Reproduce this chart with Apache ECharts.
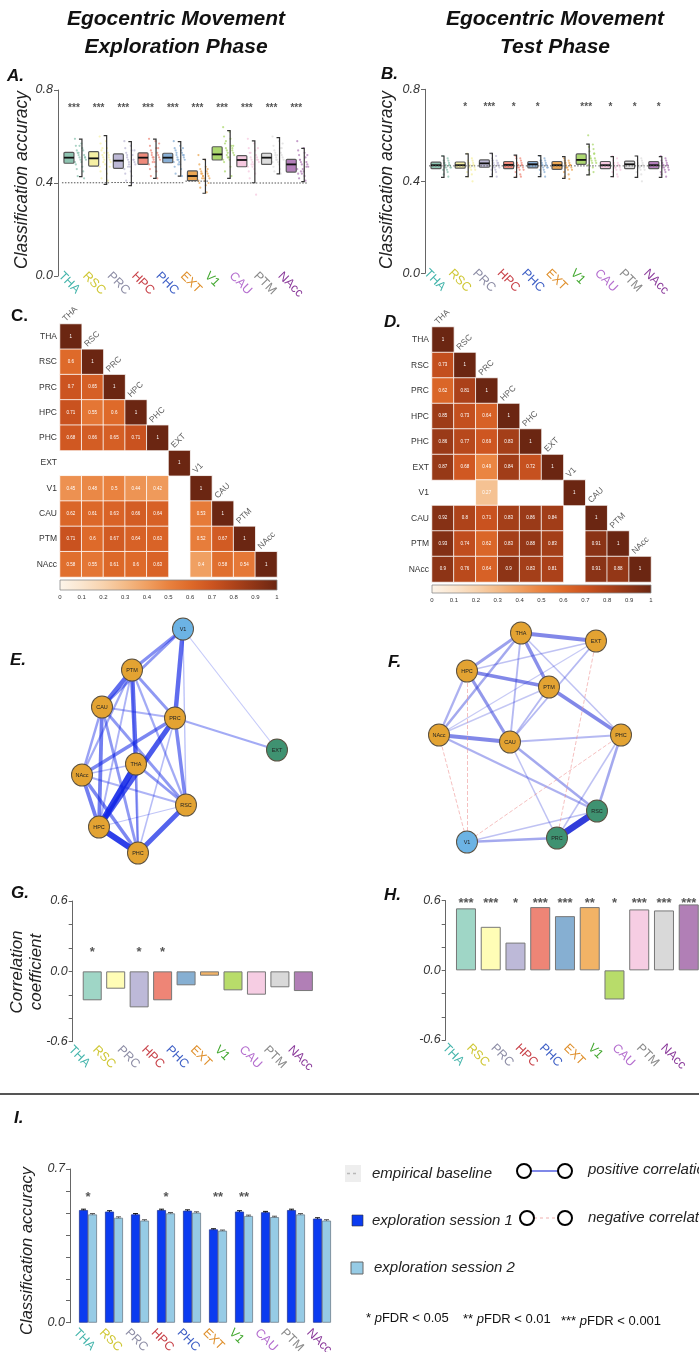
<!DOCTYPE html>
<html>
<head>
<meta charset="utf-8">
<script src="https://cdn.jsdelivr.net/npm/echarts@6/dist/echarts.min.js"></script>
<style>
html,body{margin:0;padding:0;background:#fff;}
#chart{width:699px;height:1352px;}
</style>
</head>
<body>
<div id="chart"></div>
<script>
const FONT = '"Liberation Sans", Arial, Helvetica, sans-serif';

// ---------- regions ----------
const regions = ['THA','RSC','PRC','HPC','PHC','EXT','V1','CAU','PTM','NAcc'];
const labelColors = ['#45b5ac','#cfc734','#8e8ea6','#c84249','#3f60c6','#df8f2b','#43a830','#b56fcf','#8a8a8a','#8b3b9b'];
const boxFills = ['#8ec4b1','#f6f0a4','#bdb9d6','#ef8a7b','#88afd6','#eca753','#acd86f','#f5c8df','#dddddd','#b37fba'];
const barFills = ['#9fd6c6','#fffdb6','#bdb9d8','#ee8576','#86afd2','#f2b366','#b8dc6a','#f6cde3','#d9d9d9','#b17fb6'];

// ---------- A: exploration phase classification accuracy ----------
const A_q1 = [0.485,0.473,0.463,0.480,0.487,0.410,0.499,0.470,0.480,0.447];
const A_median = [0.509,0.506,0.496,0.509,0.509,0.430,0.523,0.499,0.509,0.480];
const A_q3 = [0.532,0.535,0.525,0.530,0.528,0.452,0.556,0.518,0.528,0.502];
const A_low = [0.427,0.394,0.389,0.420,0.430,0.356,0.420,0.401,0.439,0.406];
const A_high = [0.589,0.604,0.578,0.589,0.578,0.502,0.625,0.581,0.595,0.549];
const A_baseline = [0.401,0.401,0.402,0.400,0.401,0.408,0.400,0.400,0.400,0.400];
const A_stars = ['***','***','***','***','***','***','***','***','***','***'];
const A_points = [
  [0.59,0.57,0.56,0.55,0.54,0.54,0.53,0.52,0.52,0.51,0.51,0.50,0.50,0.49,0.49,0.48,0.47,0.46,0.45,0.43,0.42,0.53,0.51,0.56],
  [0.60,0.58,0.57,0.55,0.54,0.53,0.52,0.51,0.51,0.50,0.50,0.49,0.48,0.47,0.46,0.45,0.44,0.42,0.41,0.55,0.52,0.49,0.47,0.53],
  [0.58,0.56,0.55,0.54,0.53,0.52,0.51,0.50,0.50,0.49,0.49,0.48,0.47,0.46,0.45,0.44,0.43,0.41,0.40,0.52,0.50,0.47,0.54,0.48],
  [0.59,0.58,0.56,0.55,0.54,0.53,0.53,0.52,0.51,0.51,0.50,0.50,0.49,0.48,0.47,0.46,0.45,0.43,0.42,0.52,0.55,0.49,0.57,0.51],
  [0.58,0.56,0.55,0.54,0.54,0.53,0.52,0.52,0.51,0.51,0.50,0.50,0.49,0.49,0.48,0.47,0.46,0.44,0.43,0.53,0.55,0.50,0.52,0.48],
  [0.52,0.50,0.48,0.47,0.46,0.45,0.45,0.44,0.44,0.43,0.43,0.42,0.42,0.41,0.41,0.40,0.39,0.38,0.36,0.44,0.46,0.42,0.40,0.43],
  [0.64,0.62,0.60,0.59,0.57,0.56,0.55,0.55,0.54,0.53,0.53,0.52,0.51,0.50,0.50,0.49,0.47,0.45,0.43,0.58,0.54,0.52,0.56,0.51],
  [0.59,0.57,0.55,0.54,0.53,0.52,0.51,0.51,0.50,0.50,0.49,0.49,0.48,0.47,0.46,0.45,0.44,0.42,0.35,0.53,0.50,0.48,0.55,0.47],
  [0.60,0.58,0.56,0.55,0.54,0.53,0.52,0.52,0.51,0.51,0.50,0.50,0.49,0.49,0.48,0.47,0.46,0.45,0.44,0.53,0.55,0.50,0.57,0.52],
  [0.58,0.55,0.54,0.53,0.52,0.51,0.50,0.49,0.49,0.48,0.48,0.47,0.46,0.46,0.45,0.44,0.43,0.42,0.41,0.50,0.47,0.45,0.52,0.44]
];

// ---------- B: test phase classification accuracy ----------
const B_q1 = [0.455,0.457,0.461,0.455,0.458,0.452,0.474,0.455,0.455,0.455];
const B_median = [0.470,0.470,0.478,0.471,0.474,0.470,0.493,0.470,0.474,0.470];
const B_q3 = [0.483,0.484,0.493,0.486,0.486,0.486,0.519,0.486,0.488,0.486];
const B_low = [0.417,0.420,0.420,0.417,0.420,0.413,0.428,0.420,0.417,0.417];
const B_high = [0.510,0.519,0.522,0.514,0.512,0.507,0.562,0.507,0.510,0.507];
const B_baseline = [0.467,0.467,0.467,0.467,0.467,0.467,0.467,0.467,0.467,0.467];
const B_stars = ['','*','***','*','*','','***','*','*','*'];
const B_points = [
  [0.51,0.50,0.49,0.49,0.48,0.48,0.47,0.47,0.47,0.46,0.46,0.46,0.45,0.45,0.44,0.43,0.42,0.48,0.47,0.46],
  [0.52,0.50,0.49,0.49,0.48,0.48,0.47,0.47,0.47,0.46,0.46,0.45,0.45,0.44,0.43,0.42,0.40,0.48,0.47,0.46],
  [0.52,0.51,0.50,0.49,0.49,0.48,0.48,0.48,0.47,0.47,0.46,0.46,0.45,0.45,0.44,0.43,0.42,0.49,0.47,0.46],
  [0.51,0.50,0.50,0.49,0.48,0.48,0.47,0.47,0.47,0.46,0.46,0.45,0.45,0.44,0.43,0.42,0.42,0.48,0.47,0.46],
  [0.51,0.50,0.49,0.49,0.48,0.48,0.48,0.47,0.47,0.46,0.46,0.46,0.45,0.45,0.44,0.43,0.42,0.49,0.47,0.47],
  [0.50,0.49,0.49,0.48,0.48,0.47,0.47,0.47,0.46,0.46,0.46,0.45,0.45,0.44,0.43,0.42,0.41,0.48,0.47,0.46],
  [0.60,0.56,0.55,0.54,0.53,0.52,0.51,0.50,0.50,0.49,0.49,0.48,0.48,0.47,0.46,0.45,0.44,0.43,0.52,0.50],
  [0.51,0.50,0.49,0.48,0.48,0.47,0.47,0.47,0.46,0.46,0.46,0.45,0.45,0.44,0.43,0.42,0.42,0.48,0.47,0.46],
  [0.51,0.50,0.49,0.49,0.48,0.48,0.47,0.47,0.46,0.46,0.46,0.45,0.45,0.44,0.43,0.42,0.40,0.48,0.47,0.46],
  [0.51,0.50,0.49,0.49,0.48,0.48,0.47,0.47,0.47,0.46,0.46,0.45,0.45,0.44,0.44,0.43,0.42,0.48,0.47,0.46]
];

// ---------- C / D: correlation matrices (lower triangle, null = not shown) ----------
const C_matrix = [
  [1],
  [0.6,1],
  [0.7,0.65,1],
  [0.71,0.55,0.6,1],
  [0.68,0.66,0.65,0.71,1],
  [null,null,null,null,null,1],
  [0.45,0.48,0.5,0.44,0.42,null,1],
  [0.62,0.61,0.63,0.66,0.64,null,0.53,1],
  [0.71,0.6,0.67,0.64,0.63,null,0.52,0.67,1],
  [0.58,0.55,0.61,0.6,0.63,null,0.4,0.58,0.54,1]
];
const D_matrix = [
  [1],
  [0.73,1],
  [0.62,0.81,1],
  [0.85,0.73,0.64,1],
  [0.86,0.77,0.69,0.83,1],
  [0.87,0.68,0.49,0.84,0.72,1],
  [null,null,0.27,null,null,null,1],
  [0.92,0.8,0.71,0.83,0.86,0.84,null,1],
  [0.93,0.74,0.62,0.83,0.88,0.83,null,0.91,1],
  [0.9,0.76,0.64,0.9,0.83,0.81,null,0.91,0.88,1]
];
const heatColors = ['#fdf5ea','#fbe6cf','#f8d3ae','#f4bb88','#f0a062','#e9823f','#de6a2a','#cc5420','#ae431a','#8d3416','#6b2612'];
const colorbarTicks = [0,0.1,0.2,0.3,0.4,0.5,0.6,0.7,0.8,0.9,1];

// ---------- E / F: network layouts and edge weights ----------
const E_nodes = ['V1','PTM','CAU','PRC','EXT','THA','NAcc','RSC','HPC','PHC'];
const E_layout = [[103,1],[52,42],[22,79],[95,90],[197,122],[56,136],[2,147],[106,177],[19,199],[58,225]];
const E_nodeColor = ['#6cb3e4','#e3a332','#e3a332','#e3a332','#3f9271','#e3a332','#e3a332','#e3a332','#e3a332','#e3a332'];
const E_edges = [
  ['THA','HPC',0.85],['HPC','PHC',0.85],['PRC','HPC',0.7],['PTM','THA',0.6],['V1','PRC',0.6],
  ['PTM','CAU',0.6],['RSC','PHC',0.65],['CAU','HPC',0.5],['NAcc','HPC',0.5],['NAcc','PHC',0.45],
  ['PRC','RSC',0.45],['PRC','NAcc',0.45],['V1','PTM',0.4],['V1','CAU',0.35],['PTM','PRC',0.35],
  ['CAU','RSC',0.35],['CAU','PHC',0.35],['THA','RSC',0.35],['THA','PHC',0.3],['CAU','NAcc',0.3],
  ['PTM','NAcc',0.25],['PTM','HPC',0.2],['PTM','RSC',0.25],['PRC','EXT',0.25],['CAU','PRC',0.2],
  ['NAcc','RSC',0.2],['PRC','PHC',0.15],['V1','RSC',0.12],['V1','EXT',0.08],['THA','NAcc',0.15],
  ['PTM','PHC',0.15],['HPC','RSC',0.1]
];
const F_nodes = ['THA','EXT','HPC','PTM','NAcc','CAU','PHC','RSC','PRC','V1'];
const F_layout = [[91,5],[166,13],[37,43],[119,59],[9,107],[80,114],[191,107],[167,183],[127,210],[37,214]];
const F_nodeColor = ['#e3a332','#e3a332','#e3a332','#e3a332','#e3a332','#e3a332','#e3a332','#3f9271','#3f9271','#6cb3e4'];
const F_edges = [
  ['RSC','PRC',0.95],['THA','EXT',0.5],['HPC','PTM',0.5],['PTM','PHC',0.5],['NAcc','CAU',0.5],
  ['THA','PTM',0.45],['HPC','CAU',0.4],['THA','HPC',0.35],['THA','NAcc',0.3],['PRC','V1',0.3],
  ['CAU','RSC',0.3],['PHC','RSC',0.3],['NAcc','RSC',0.25],['THA','CAU',0.2],['HPC','NAcc',0.25],
  ['PTM','CAU',0.2],['EXT','CAU',0.2],['CAU','PHC',0.2],['CAU','PRC',0.15],['PHC','PRC',0.15],
  ['RSC','V1',0.15],['HPC','EXT',0.15],['THA','PHC',0.15],['PTM','NAcc',0.12],['EXT','NAcc',0.1],
  ['EXT','PRC',-0.2],['NAcc','V1',-0.15],['PHC','V1',-0.1],['HPC','V1',-0.08]
];

// ---------- G / H: correlation coefficients ----------
const G_values = [-0.247,-0.148,-0.307,-0.247,-0.119,-0.037,-0.162,-0.199,-0.136,-0.168];
const G_stars = ['*','','*','*','','','','','',''];
const H_values = [0.534,0.375,0.239,0.545,0.467,0.545,-0.251,0.525,0.516,0.568];
const H_stars = ['***','***','*','***','***','**','*','***','***','***'];

// ---------- I: exploration sessions ----------
const I_session1 = [0.513,0.506,0.493,0.513,0.510,0.425,0.506,0.503,0.513,0.474];
const I_session2 = [0.493,0.478,0.465,0.498,0.501,0.419,0.486,0.481,0.493,0.465];
const I_se1 = [0.004,0.004,0.004,0.004,0.004,0.003,0.004,0.004,0.004,0.004];
const I_se2 = [0.004,0.004,0.004,0.004,0.004,0.003,0.004,0.004,0.004,0.004];
const I_stars = ['*','','','*','','**','**','','',''];

// ================= building the option =================
const grids = [], xAxes = [], yAxes = [], series = [], visualMaps = [], graphics = [];

function addGrid(g) {
  grids.push(Object.assign({ containLabel: false, outerBoundsMode: 'none' }, g));
  return grids.length - 1;
}
function hiddenCategoryX(gi) {
  xAxes.push({ gridIndex: gi, type: 'category', data: regions,
    axisLine: { show: false }, axisTick: { show: false }, axisLabel: { show: false }, splitLine: { show: false } });
  return xAxes.length - 1;
}
function valueY(gi, min, max, interval, shown, offset) {
  yAxes.push({ gridIndex: gi, type: 'value', min, max, interval, offset,
    axisLine: { show: true, lineStyle: { color: '#666', width: 1 } },
    axisTick: { show: true, length: 4, lineStyle: { color: '#666' } },
    splitLine: { show: false },
    axisLabel: { fontSize: 12.5, fontStyle: 'italic', color: '#333', fontFamily: FONT, margin: 5,
      formatter: v => shown.some(t => Math.abs(t - v) < 1e-6) ? v.toFixed(1) : '' } });
  return yAxes.length - 1;
}
// rotated coloured region names, on their own axis
function labelAxis(g, margin) {
  const gi = addGrid(g);
  xAxes.push({ gridIndex: gi, type: 'category', data: regions, boundaryGap: false,
    axisLine: { show: false }, axisTick: { show: false }, splitLine: { show: false },
    axisLabel: { show: true, interval: 0, rotate: -45, margin, fontSize: 12.5, fontFamily: FONT,
      color: (v, i) => labelColors[i] } });
  yAxes.push({ gridIndex: gi, type: 'value', show: false, min: 0, max: 1 });
  series.push({ type: 'line', xAxisIndex: xAxes.length - 1, yAxisIndex: yAxes.length - 1, data: [], silent: true });
}
function starSeries(xi, yi, stars, y, size) {
  series.push({ type: 'scatter', xAxisIndex: xi, yAxisIndex: yi, silent: true, symbolSize: 1,
    itemStyle: { color: 'rgba(0,0,0,0)' },
    data: stars.map((s, i) => [i, y]),
    label: { show: true, position: 'inside', formatter: p => stars[p.dataIndex],
      fontSize: size, fontWeight: 'bold', color: '#2a2a2a', fontFamily: FONT } });
}

// box + bracket-whisker + jittered points panel
function boxPanel(g, yOffset, q1, med, q3, lo, hi, base, pts, stars, geo) {
  const gi = addGrid(g);
  const xi = hiddenCategoryX(gi);
  const yi = valueY(gi, 0, 0.8, 0.4, [0, 0.4, 0.8], yOffset);
  const pdata = [];
  pts.forEach((arr, i) => arr.forEach((v, j) => pdata.push([i, v, j])));
  series.push({ type: 'custom', xAxisIndex: xi, yAxisIndex: yi, silent: true, data: pdata,
    renderItem: (p, api) => {
      const i = api.value(0), j = api.value(2);
      const c = api.coord([i, api.value(1)]);
      const frac = ((j * 7) % 13) / 12;
      return { type: 'circle', shape: { cx: c[0] + geo.ptL + frac * geo.ptW, cy: c[1], r: 1.1 },
        style: { fill: boxFills[i], opacity: 0.75 } };
    } });
  const bdata = regions.map((r, i) => [i, q1[i], med[i], q3[i], lo[i], hi[i], base[i]]);
  series.push({ type: 'custom', xAxisIndex: xi, yAxisIndex: yi, silent: true, data: bdata,
    renderItem: (p, api) => {
      const i = api.value(0);
      const cx = api.coord([i, 0])[0];
      const y = k => api.coord([i, api.value(k)])[1];
      const yq1 = y(1), ym = y(2), yq3 = y(3), ylo = y(4), yhi = y(5), yb = y(6);
      const bx = cx + geo.bracket;
      return { type: 'group', children: [
        { type: 'rect', shape: { x: cx + geo.boxL, y: yq3, width: geo.boxW, height: yq1 - yq3, r: 1 },
          style: { fill: boxFills[i], stroke: '#5a5a5a', lineWidth: 1.2 } },
        { type: 'line', shape: { x1: cx + geo.boxL, y1: ym, x2: cx + geo.boxL + geo.boxW, y2: ym },
          style: { stroke: '#111', lineWidth: 1.8 } },
        { type: 'polyline', shape: { points: [[bx - 3, yhi], [bx, yhi], [bx, ylo], [bx - 3, ylo]] },
          style: { stroke: '#333', lineWidth: 1.2, fill: null } },
        { type: 'line', shape: { x1: cx + geo.baseL, y1: yb, x2: cx + geo.baseR, y2: yb },
          style: { stroke: '#555', lineWidth: 1, lineDash: [1.5, 1.5] } }
      ] };
    } });
  starSeries(xi, yi, stars, 0.72, 10);
}

boxPanel({ left: 61.6, top: 90, width: 247, height: 186 }, 3.6,
  A_q1, A_median, A_q3, A_low, A_high, A_baseline, A_points, A_stars,
  { boxL: -10, boxW: 10, bracket: 8, ptL: 1, ptW: 11, baseL: -12, baseR: 11 });
labelAxis({ left: 60.4, top: 266, width: 219.6, height: 10 }, -2);

boxPanel({ left: 428.9, top: 89.3, width: 242, height: 184 }, 3.9,
  B_q1, B_median, B_q3, B_low, B_high, B_baseline, B_points, B_stars,
  { boxL: -10, boxW: 10, bracket: 3, ptL: 2, ptW: 8, baseL: -12, baseR: 10 });
labelAxis({ left: 426, top: 263.3, width: 219.6, height: 10 }, -2);

// correlation heatmap + colour bar
function heatPanel(g, bar, matrix) {
  const gi = addGrid(g);
  xAxes.push({ gridIndex: gi, type: 'category', data: regions, show: false });
  const xi = xAxes.length - 1;
  yAxes.push({ gridIndex: gi, type: 'category', data: regions, inverse: true,
    axisLine: { show: false }, axisTick: { show: false }, splitLine: { show: false },
    axisLabel: { fontSize: 8.5, color: '#333', fontFamily: FONT, margin: 3 } });
  const yi = yAxes.length - 1;
  const data = [];
  matrix.forEach((row, r) => row.forEach((v, c) => { if (v !== null) data.push([c, r, v]); }));
  series.push({ type: 'heatmap', xAxisIndex: xi, yAxisIndex: yi, data, silent: true,
    itemStyle: { borderColor: 'rgba(255,255,255,0.8)', borderWidth: 1 },
    label: { show: true, fontSize: 4.5, color: '#fff', fontFamily: FONT, formatter: p => String(p.value[2]) } });
  visualMaps.push({ type: 'continuous', show: false, min: 0, max: 1, dimension: 2,
    seriesIndex: series.length - 1, inRange: { color: heatColors } });
  // region names above the diagonal (offset is in the rotated frame)
  series.push({ type: 'scatter', xAxisIndex: xi, yAxisIndex: yi, silent: true, symbolSize: 1,
    itemStyle: { color: 'rgba(0,0,0,0)' },
    data: regions.map((r, i) => [i, i]),
    label: { show: true, position: 'inside', formatter: p => regions[p.dataIndex], rotate: 45,
      align: 'left', verticalAlign: 'bottom', offset: [7, -12], fontSize: 8.5, color: '#333', fontFamily: FONT } });

  const bi = addGrid(bar);
  xAxes.push({ gridIndex: bi, type: 'value', min: 0, max: 1, interval: 0.1,
    axisLine: { show: false }, axisTick: { show: false }, splitLine: { show: false },
    axisLabel: { fontSize: 6, color: '#333', fontFamily: FONT, margin: 4,
      formatter: v => (v === 0 || v === 1) ? String(v) : v.toFixed(1) } });
  yAxes.push({ gridIndex: bi, type: 'value', min: 0, max: 1, show: false });
  series.push({ type: 'custom', xAxisIndex: xAxes.length - 1, yAxisIndex: yAxes.length - 1, silent: true,
    data: [[colorbarTicks[0], 1]],
    renderItem: (p, api) => {
      const a = api.coord([colorbarTicks[0], 1]);
      const b = api.coord([colorbarTicks[colorbarTicks.length - 1], 0]);
      return { type: 'rect', shape: { x: a[0], y: a[1], width: b[0] - a[0], height: b[1] - a[1] },
        style: { fill: new echarts.graphic.LinearGradient(0, 0, 1, 0,
          heatColors.map((c, k) => ({ offset: k / (heatColors.length - 1), color: c }))),
          stroke: '#8a8a8a', lineWidth: 0.8 } };
    } });
}
heatPanel({ left: 60, top: 324, width: 217, height: 253 }, { left: 60, top: 580, width: 217, height: 10 }, C_matrix);
heatPanel({ left: 432, top: 327, width: 219, height: 255 }, { left: 432, top: 585, width: 219, height: 8 }, D_matrix);

// networks
function netPanel(box, names, layout, colors, edges, blue) {
  series.push({ type: 'graph', layout: 'none', silent: true, left: box.left, top: box.top,
    width: box.width, height: box.height,
    data: names.map((n, i) => ({ name: n, x: layout[i][0], y: layout[i][1], symbolSize: [21, 22],
      itemStyle: { color: colors[i], borderColor: '#5a5040', borderWidth: 1 } })),
    links: edges.map(e => {
      const w = e[2];
      const ls = w < 0
        ? { color: '#ec8c8c', width: 1, opacity: 0.55, type: 'dashed' }
        : { color: blue, width: 0.6 + 6.4 * w, opacity: 0.18 + 0.82 * w, type: 'solid' };
      return { source: e[0], target: e[1], lineStyle: ls };
    }),
    label: { show: true, position: 'inside', fontSize: 5.5, color: '#222', fontFamily: FONT },
    lineStyle: { curveness: 0 } });
}
netPanel({ left: 82, top: 629, width: 195, height: 224 }, E_nodes, E_layout, E_nodeColor, E_edges, '#1024e6');
netPanel({ left: 439, top: 633, width: 182, height: 209 }, F_nodes, F_layout, F_nodeColor, F_edges, '#2a35d8');

// correlation bar panels
function corrPanel(g, yOffset, values, stars, barW) {
  const gi = addGrid(g);
  const xi = hiddenCategoryX(gi);
  const yi = valueY(gi, -0.6, 0.6, 0.2, [-0.6, 0, 0.6], yOffset);
  series.push({ type: 'bar', xAxisIndex: xi, yAxisIndex: yi, silent: true, data: values, barWidth: barW,
    itemStyle: { color: p => barFills[p.dataIndex], borderColor: '#777', borderWidth: 1 } });
  return [xi, yi];
}
const gAx = corrPanel({ left: 80.5, top: 901, width: 234.6, height: 140.7 }, 7.8, G_values, G_stars, 19);
starSeries(gAx[0], gAx[1], G_stars, 0.165, 13);
labelAxis({ left: 70.4, top: 1031.7, width: 219.6, height: 10 }, 6);
const hAx = corrPanel({ left: 453.6, top: 900.7, width: 247.5, height: 139.3 }, 7.9, H_values, H_stars, 20);
starSeries(hAx[0], hAx[1], H_stars, 0.575, 13);
labelAxis({ left: 444.4, top: 1030, width: 218.3, height: 10 }, 6);

// session comparison
(function () {
  const gi = addGrid({ left: 75, top: 1169, width: 260, height: 153.7 });
  const xi = hiddenCategoryX(gi);
  const yi = valueY(gi, 0, 0.7, 0.1, [0, 0.7], 5);
  series.push({ type: 'bar', xAxisIndex: xi, yAxisIndex: yi, silent: true, data: I_session1, barWidth: 9, barGap: '0%',
    itemStyle: { color: '#0b3bf0', borderColor: '#24389a', borderWidth: 0.8 } });
  series.push({ type: 'bar', xAxisIndex: xi, yAxisIndex: yi, silent: true, data: I_session2, barWidth: 9, barGap: '0%',
    itemStyle: { color: '#96cbe5', borderColor: '#6d7d8a', borderWidth: 0.8 } });
  series.push({ type: 'custom', xAxisIndex: xi, yAxisIndex: yi, silent: true,
    data: regions.map((r, i) => [i, I_session1[i], I_se1[i], I_session2[i], I_se2[i]]),
    renderItem: (p, api) => {
      const i = api.value(0);
      const cx = api.coord([i, 0])[0];
      const err = (x, v, se, col) => {
        const t = api.coord([i, v + se])[1], b = api.coord([i, v - se])[1];
        return [
          { type: 'line', shape: { x1: x, y1: t, x2: x, y2: b }, style: { stroke: col, lineWidth: 1 } },
          { type: 'line', shape: { x1: x - 2.5, y1: t, x2: x + 2.5, y2: t }, style: { stroke: col, lineWidth: 1 } },
          { type: 'line', shape: { x1: x - 2.5, y1: b, x2: x + 2.5, y2: b }, style: { stroke: col, lineWidth: 1 } }
        ];
      };
      return { type: 'group', children: err(cx - 4.5, api.value(1), api.value(2), '#111')
        .concat(err(cx + 4.5, api.value(3), api.value(4), '#555')) };
    } });
  starSeries(xi, yi, I_stars, 0.57, 13);
})();
labelAxis({ left: 75.4, top: 1312.7, width: 233.3, height: 10 }, 8);

// ---------- text and legend ----------
function txt(text, x, y, size, o) {
  o = o || {};
  graphics.push({ type: 'text', x, y, rotation: o.rot || 0, silent: true,
    style: { text, fontSize: size, fontFamily: FONT, fontStyle: o.style || 'normal',
      fontWeight: o.weight || 'normal', fill: o.color || '#111', align: o.align || 'left',
      verticalAlign: 'middle', rich: o.rich } });
}
txt('Egocentric Movement', 176, 19, 21, { style: 'italic', weight: 'bold', align: 'center' });
txt('Exploration Phase', 176, 47, 21, { style: 'italic', weight: 'bold', align: 'center' });
txt('Egocentric Movement', 555, 19, 21, { style: 'italic', weight: 'bold', align: 'center' });
txt('Test Phase', 555, 47, 21, { style: 'italic', weight: 'bold', align: 'center' });

const panelLetter = { style: 'italic', weight: 'bold' };
txt('A.', 7, 76, 17, panelLetter);
txt('B.', 381, 74, 17, panelLetter);
txt('C.', 11, 316, 17, { weight: 'bold' });
txt('D.', 384, 322, 17, panelLetter);
txt('E.', 10, 660, 17, panelLetter);
txt('F.', 388, 662, 17, panelLetter);
txt('G.', 11, 893, 17, panelLetter);
txt('H.', 384, 895, 17, panelLetter);
txt('I.', 14, 1118, 17, panelLetter);

const axisTitle = { style: 'italic', align: 'center', rot: Math.PI / 2, color: '#222' };
txt('Classification accuracy', 22, 180, 17.5, axisTitle);
txt('Classification accuracy', 387, 180, 17.5, axisTitle);
txt('Correlation', 17, 972, 17, axisTitle);
txt('coefficient', 36, 972, 17, axisTitle);
txt('Classification accuracy', 27, 1251, 16.5, axisTitle);

graphics.push({ type: 'line', silent: true, shape: { x1: 0, y1: 1094, x2: 699, y2: 1094 },
  style: { stroke: '#555', lineWidth: 2 } });

// legend
graphics.push({ type: 'rect', silent: true, shape: { x: 345, y: 1165, width: 16, height: 17 }, style: { fill: '#eeeeee' } });
graphics.push({ type: 'line', silent: true, shape: { x1: 347, y1: 1173.5, x2: 359, y2: 1173.5 },
  style: { stroke: '#b8b8b8', lineWidth: 1.5, lineDash: [3, 3] } });
txt('empirical baseline', 372, 1174, 15, { style: 'italic', color: '#222' });
graphics.push({ type: 'line', silent: true, shape: { x1: 531, y1: 1171, x2: 558, y2: 1171 },
  style: { stroke: '#5560e0', lineWidth: 1.5 } });
graphics.push({ type: 'circle', silent: true, shape: { cx: 524, cy: 1171, r: 7 }, style: { fill: '#fff', stroke: '#000', lineWidth: 2 } });
graphics.push({ type: 'circle', silent: true, shape: { cx: 565, cy: 1171, r: 7 }, style: { fill: '#fff', stroke: '#000', lineWidth: 2 } });
txt('positive correlation', 588, 1170, 15, { style: 'italic', color: '#222' });

graphics.push({ type: 'rect', silent: true, shape: { x: 352, y: 1215, width: 11, height: 11 },
  style: { fill: '#0b3bf0', stroke: '#333', lineWidth: 0.6 } });
txt('exploration session 1', 372, 1221, 15, { style: 'italic', color: '#222' });
graphics.push({ type: 'line', silent: true, shape: { x1: 534, y1: 1218, x2: 558, y2: 1218 },
  style: { stroke: '#f0b0b0', lineWidth: 1.2, lineDash: [3, 3] } });
graphics.push({ type: 'circle', silent: true, shape: { cx: 527, cy: 1218, r: 7 }, style: { fill: '#fff', stroke: '#000', lineWidth: 2 } });
graphics.push({ type: 'circle', silent: true, shape: { cx: 565, cy: 1218, r: 7 }, style: { fill: '#fff', stroke: '#000', lineWidth: 2 } });
txt('negative correlation', 588, 1218, 15, { style: 'italic', color: '#222' });

graphics.push({ type: 'rect', silent: true, shape: { x: 351, y: 1262, width: 12, height: 12 },
  style: { fill: '#96cbe5', stroke: '#666', lineWidth: 1 } });
txt('exploration session 2', 374, 1268, 15, { style: 'italic', color: '#222' });

const pRich = { n: { fontSize: 13, fontFamily: FONT, fill: '#111' }, i: { fontSize: 13, fontFamily: FONT, fontStyle: 'italic', fill: '#111' } };
txt('{n|* }{i|p}{n|FDR < 0.05}', 366, 1318, 13, { rich: pRich });
txt('{n|** }{i|p}{n|FDR < 0.01}', 463, 1319, 13, { rich: pRich });
txt('{n|*** }{i|p}{n|FDR < 0.001}', 561, 1321, 13, { rich: pRich });

const chart = echarts.init(document.getElementById('chart'), null, { renderer: 'canvas' });
chart.setOption({
  animation: false,
  backgroundColor: '#fff',
  textStyle: { fontFamily: FONT },
  grid: grids, xAxis: xAxes, yAxis: yAxes, visualMap: visualMaps, series, graphic: graphics
});
</script>
</body>
</html>
